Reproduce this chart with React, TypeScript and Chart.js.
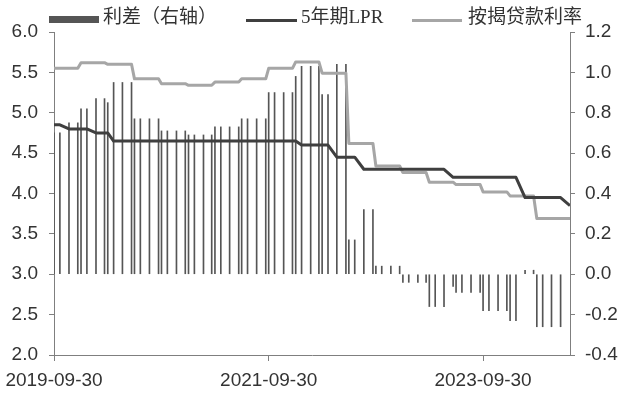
import React, { useEffect, useRef } from "react";
import { Chart, registerables } from "chart.js";

Chart.register(...registerables);

// ---- data ----
const dates = [
  "2019-09-30", "2019-10-20", "2019-11-20", "2019-12-20", "2019-12-31",
  "2020-01-20", "2020-02-20", "2020-03-20", "2020-03-31", "2020-04-20", "2020-05-20", "2020-06-20", "2020-06-30",
  "2020-07-20", "2020-08-20", "2020-09-20", "2020-09-30", "2020-10-20", "2020-11-20", "2020-12-20", "2020-12-31",
  "2021-01-20", "2021-02-20", "2021-03-20", "2021-03-31", "2021-04-20", "2021-05-20", "2021-06-20", "2021-06-30",
  "2021-07-20", "2021-08-20", "2021-09-20", "2021-09-30", "2021-10-20", "2021-11-20", "2021-12-20", "2021-12-31",
  "2022-01-20", "2022-02-20", "2022-03-20", "2022-03-31", "2022-04-20", "2022-05-20", "2022-06-20", "2022-06-30",
  "2022-07-20", "2022-08-20", "2022-09-20", "2022-09-30", "2022-10-20", "2022-11-20", "2022-12-20", "2022-12-31",
  "2023-01-20", "2023-02-20", "2023-03-20", "2023-03-31", "2023-04-20", "2023-05-20", "2023-06-20", "2023-06-30",
  "2023-07-20", "2023-08-20", "2023-09-20", "2023-09-30", "2023-10-20", "2023-11-20", "2023-12-20", "2023-12-31",
  "2024-01-20", "2024-02-20", "2024-03-20", "2024-03-31", "2024-04-20", "2024-05-20", "2024-06-20", "2024-07-22",
];

// 5年期LPR (left axis, %)
const lpr5y = [
  4.85, 4.85, 4.80, 4.80, 4.80,
  4.80, 4.75, 4.75, 4.75, 4.65, 4.65, 4.65, 4.65, 4.65, 4.65, 4.65, 4.65, 4.65, 4.65, 4.65, 4.65,
  4.65, 4.65, 4.65, 4.65, 4.65, 4.65, 4.65, 4.65, 4.65, 4.65, 4.65, 4.65, 4.65, 4.65, 4.65, 4.65,
  4.60, 4.60, 4.60, 4.60, 4.60, 4.45, 4.45, 4.45, 4.45, 4.30, 4.30, 4.30, 4.30, 4.30, 4.30, 4.30,
  4.30, 4.30, 4.30, 4.30, 4.30, 4.30, 4.20, 4.20, 4.20, 4.20, 4.20, 4.20, 4.20, 4.20, 4.20, 4.20,
  4.20, 3.95, 3.95, 3.95, 3.95, 3.95, 3.95, 3.85,
];

// 按揭贷款利率 (left axis, %)
const mortgageRate = [
  5.55, 5.55, 5.55, 5.55, 5.62,
  5.62, 5.62, 5.62, 5.60, 5.60, 5.60, 5.60, 5.42, 5.42, 5.42, 5.42, 5.36, 5.36, 5.36, 5.36, 5.34,
  5.34, 5.34, 5.34, 5.38, 5.38, 5.38, 5.38, 5.42, 5.42, 5.42, 5.42, 5.55, 5.55, 5.55, 5.55, 5.63,
  5.63, 5.63, 5.63, 5.49, 5.49, 5.49, 5.49, 4.62, 4.62, 4.62, 4.62, 4.34, 4.34, 4.34, 4.34, 4.26,
  4.26, 4.26, 4.26, 4.14, 4.14, 4.14, 4.14, 4.11, 4.11, 4.11, 4.11, 4.02, 4.02, 4.02, 4.02, 3.97,
  3.97, 3.97, 3.97, 3.69, 3.69, 3.69, 3.69, 3.69,
];

// 利差（右轴） (right axis, %)
const spread = [
  0.70, 0.70, 0.75, 0.75, 0.82,
  0.82, 0.87, 0.87, 0.85, 0.95, 0.95, 0.95, 0.77, 0.77, 0.77, 0.77, 0.71, 0.71, 0.71, 0.71, 0.69,
  0.69, 0.69, 0.69, 0.73, 0.73, 0.73, 0.73, 0.77, 0.77, 0.77, 0.77, 0.90, 0.90, 0.90, 0.90, 0.98,
  1.03, 1.03, 1.03, 0.89, 0.89, 1.04, 1.04, 0.17, 0.17, 0.32, 0.32, 0.04, 0.04, 0.04, 0.04, -0.04,
  -0.04, -0.04, -0.04, -0.16, -0.16, -0.16, -0.06, -0.09, -0.09, -0.09, -0.09, -0.18, -0.18, -0.18, -0.18, -0.23,
  -0.23, 0.02, 0.02, -0.26, -0.26, -0.26, -0.26, null,
];

const xTickLabels = ["2019-09-30", "2021-09-30", "2023-09-30"];
const seriesNames = ["利差（右轴）", "5年期LPR", "按揭贷款利率"];
const leftRange = [2.0, 6.0, 0.5];
const rightRange = [-0.4, 1.2, 0.2];

// ---- helpers ----
const DAY_MS = 86400000;
const baseTime = Date.parse(dates[0]);
const toDay = (s: string) => Math.round((Date.parse(s) - baseTime) / DAY_MS);

const COLORS = {
  bar: "#555555",
  lpr: "#3f3f3f",
  mortgage: "#a6a6a6",
  axis: "#7f7f7f",
  text: "#333333",
};

const TICK_FONT = { family: "'Liberation Sans', Arial, sans-serif", size: 19 };
const LEGEND_FONT = "19px 'Liberation Serif', 'Noto Sans CJK SC', serif";

const legendPlugin = {
  id: "customLegend",
  afterDraw(chart: any) {
    const ctx = chart.ctx as CanvasRenderingContext2D;
    ctx.save();
    ctx.font = LEGEND_FONT;
    ctx.textBaseline = "middle";
    const ty = 18;
    // bar item
    ctx.fillStyle = COLORS.bar;
    ctx.fillRect(49, 16, 50, 7);
    ctx.fillStyle = COLORS.text;
    ctx.fillText(seriesNames[0], 103, ty);
    // LPR item
    ctx.strokeStyle = COLORS.lpr;
    ctx.lineWidth = 3;
    ctx.beginPath();
    ctx.moveTo(246, 20.5);
    ctx.lineTo(297, 20.5);
    ctx.stroke();
    ctx.fillText(seriesNames[1], 301, ty);
    // mortgage item
    ctx.strokeStyle = COLORS.mortgage;
    ctx.beginPath();
    ctx.moveTo(412, 20.5);
    ctx.lineTo(462, 20.5);
    ctx.stroke();
    ctx.fillText(seriesNames[2], 468, ty);
    ctx.restore();
  },
};

export default function App() {
  const canvasRef = useRef<HTMLCanvasElement | null>(null);

  useEffect(() => {
    const canvas = canvasRef.current;
    if (!canvas) return;
    const xs = dates.map(toDay);
    const chart = new Chart(canvas, {
      type: "bar",
      data: {
        datasets: [
          {
            type: "line",
            label: seriesNames[1],
            data: xs.map((x, i) => ({ x, y: lpr5y[i] })),
            borderColor: COLORS.lpr,
            backgroundColor: COLORS.lpr,
            borderWidth: 3,
            pointRadius: 0,
            tension: 0,
            borderJoinStyle: "round",
            yAxisID: "y",
            order: 1,
          },
          {
            type: "line",
            label: seriesNames[2],
            data: xs.map((x, i) => ({ x, y: mortgageRate[i] })),
            borderColor: COLORS.mortgage,
            backgroundColor: COLORS.mortgage,
            borderWidth: 3,
            pointRadius: 0,
            tension: 0,
            borderJoinStyle: "round",
            yAxisID: "y",
            order: 2,
          },
          {
            type: "bar",
            label: seriesNames[0],
            data: xs.map((x, i) => ({ x, y: spread[i] })),
            backgroundColor: COLORS.bar,
            barThickness: 1,
            yAxisID: "y1",
            order: 3,
          },
        ],
      } as any,
      options: {
        animation: false,
        responsive: false,
        maintainAspectRatio: false,
        events: [],
        layout: { padding: { top: 32, left: 0, right: 0, bottom: 0 } },
        plugins: { legend: { display: false }, tooltip: { enabled: false } },
        scales: {
          x: {
            type: "linear",
            offset: false,
            min: 0,
            max: xs[xs.length - 1],
            afterBuildTicks: (scale: any) => {
              scale.ticks = xTickLabels.map((l) => ({ value: toDay(l) }));
            },
            afterFit: (scale: any) => {
              scale.height = 44;
              scale.paddingLeft = 0;
              scale.paddingRight = 0;
            },
            ticks: {
              autoSkip: false,
              maxRotation: 0,
              padding: 8,
              color: COLORS.text,
              font: TICK_FONT,
              callback: (v: any) => {
                const idx = xTickLabels.findIndex((l) => toDay(l) === v);
                return idx >= 0 ? xTickLabels[idx] : "";
              },
            },
            grid: {
              display: true,
              offset: false,
              drawOnChartArea: false,
              drawTicks: true,
              tickLength: 6,
              color: COLORS.axis,
            },
            border: { display: true, color: COLORS.axis, width: 1 },
          },
          y: {
            type: "linear",
            position: "left",
            min: leftRange[0],
            max: leftRange[1],
            afterFit: (scale: any) => {
              scale.width = 54;
            },
            ticks: {
              stepSize: leftRange[2],
              padding: 11,
              color: COLORS.text,
              font: TICK_FONT,
              callback: (v: any) => Number(v).toFixed(1),
            },
            grid: {
              display: true,
              drawOnChartArea: false,
              drawTicks: true,
              tickLength: 5,
              color: COLORS.axis,
            },
            border: { display: true, color: COLORS.axis, width: 1 },
          },
          y1: {
            type: "linear",
            position: "right",
            min: rightRange[0],
            max: rightRange[1],
            afterFit: (scale: any) => {
              scale.width = 60;
            },
            ticks: {
              stepSize: rightRange[2],
              padding: 10,
              color: COLORS.text,
              font: TICK_FONT,
              callback: (v: any) => {
                const n = Number(v);
                return (Math.abs(n) < 1e-9 ? 0 : n).toFixed(1);
              },
            },
            grid: {
              display: true,
              drawOnChartArea: false,
              drawTicks: true,
              tickLength: 5,
              color: COLORS.axis,
            },
            border: { display: true, color: COLORS.axis, width: 1 },
          },
        },
      } as any,
      plugins: [legendPlugin],
    });
    return () => chart.destroy();
  }, []);

  return (
    <div style={{ position: "absolute", left: 0, top: 0, width: 630, height: 399, background: "#fff" }}>
      <canvas ref={canvasRef} width={630} height={399} style={{ display: "block" }} />
    </div>
  );
}
